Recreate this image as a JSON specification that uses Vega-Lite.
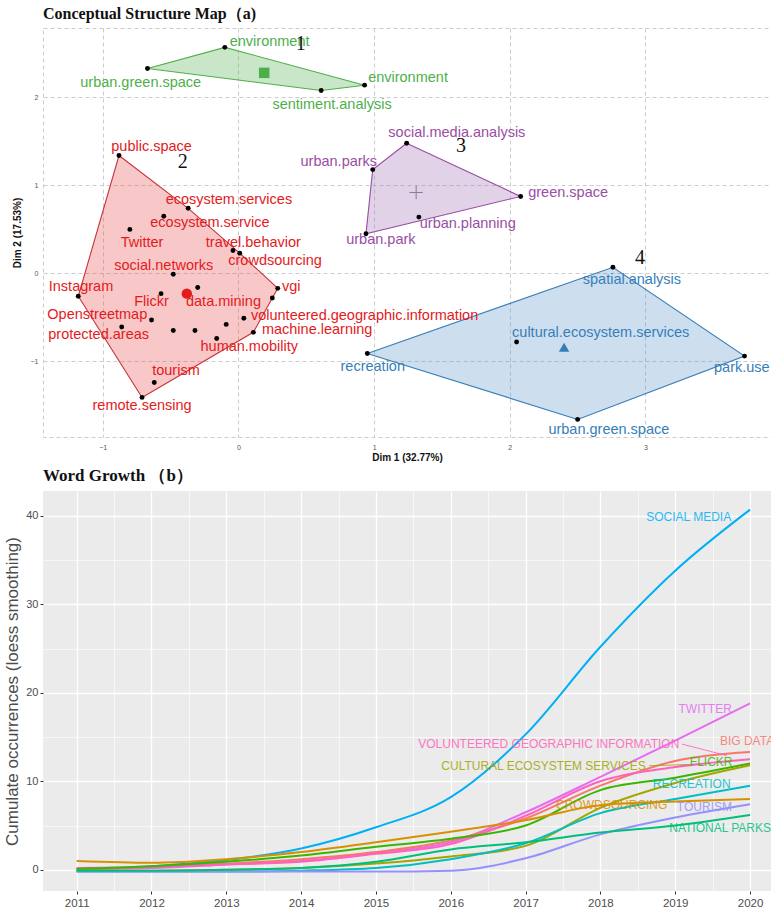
{
  "$schema": "https://vega.github.io/schema/vega-lite/v6.json",
  "background": "white",
  "padding": {"left": 3, "top": 5, "right": 0, "bottom": 0},
  "spacing": 4,
  "resolve": {"scale": {"color": "independent", "fill": "independent", "stroke": "independent", "shape": "independent"}},
  "config": {
    "font": "Liberation Sans",
    "title": {"font": "Liberation Serif", "fontWeight": "bold", "color": "#111", "anchor": "start", "frame": "group"}
  },
  "datasets": {
    "terms": [
      {"cluster": "1", "term": "environment", "x": -0.10, "y": 2.57, "hull": 2},
      {"cluster": "1", "term": "urban.green.space", "x": -0.67, "y": 2.33, "hull": 1},
      {"cluster": "1", "term": "environment", "x": 0.93, "y": 2.14, "hull": 3},
      {"cluster": "1", "term": "sentiment.analysis", "x": 0.61, "y": 2.08, "hull": 4},
      {"cluster": "2", "term": "public.space", "x": -0.88, "y": 1.34, "hull": 1},
      {"cluster": "2", "term": "ecosystem.services", "x": -0.37, "y": 0.74, "hull": 2},
      {"cluster": "2", "term": "ecosystem.service", "x": -0.55, "y": 0.65, "hull": null},
      {"cluster": "2", "term": "Twitter", "x": -0.80, "y": 0.50, "hull": null},
      {"cluster": "2", "term": "travel.behavior", "x": -0.04, "y": 0.26, "hull": null},
      {"cluster": "2", "term": "crowdsourcing", "x": 0.01, "y": 0.23, "hull": 3},
      {"cluster": "2", "term": "social.networks", "x": -0.48, "y": -0.01, "hull": null},
      {"cluster": "2", "term": "Instagram", "x": -1.18, "y": -0.26, "hull": 8},
      {"cluster": "2", "term": "Flickr", "x": -0.57, "y": -0.23, "hull": null},
      {"cluster": "2", "term": "data.mining", "x": -0.30, "y": -0.16, "hull": null},
      {"cluster": "2", "term": "vgi", "x": 0.29, "y": -0.17, "hull": 4},
      {"cluster": "2", "term": "", "x": 0.25, "y": -0.28, "hull": 5},
      {"cluster": "2", "term": "volunteered.geographic.information", "x": 0.04, "y": -0.51, "hull": null},
      {"cluster": "2", "term": "machine.learning", "x": 0.11, "y": -0.67, "hull": 6},
      {"cluster": "2", "term": "Openstreetmap", "x": -0.64, "y": -0.53, "hull": null},
      {"cluster": "2", "term": "protected.areas", "x": -0.86, "y": -0.61, "hull": null},
      {"cluster": "2", "term": "", "x": -0.48, "y": -0.65, "hull": null},
      {"cluster": "2", "term": "", "x": -0.32, "y": -0.65, "hull": null},
      {"cluster": "2", "term": "", "x": -0.09, "y": -0.58, "hull": null},
      {"cluster": "2", "term": "human.mobility", "x": -0.16, "y": -0.74, "hull": null},
      {"cluster": "2", "term": "tourism", "x": -0.62, "y": -1.24, "hull": null},
      {"cluster": "2", "term": "remote.sensing", "x": -0.71, "y": -1.41, "hull": 7},
      {"cluster": "3", "term": "social.media.analysis", "x": 1.24, "y": 1.48, "hull": 1},
      {"cluster": "3", "term": "urban.parks", "x": 0.99, "y": 1.18, "hull": 4},
      {"cluster": "3", "term": "green.space", "x": 2.08, "y": 0.875, "hull": 2},
      {"cluster": "3", "term": "urban.planning", "x": 1.33, "y": 0.64, "hull": null},
      {"cluster": "3", "term": "urban.park", "x": 0.94, "y": 0.45, "hull": 3},
      {"cluster": "4", "term": "spatial.analysis", "x": 2.76, "y": 0.07, "hull": 2},
      {"cluster": "4", "term": "recreation", "x": 0.95, "y": -0.91, "hull": 1},
      {"cluster": "4", "term": "cultural.ecosystem.services", "x": 2.05, "y": -0.78, "hull": null},
      {"cluster": "4", "term": "park.use", "x": 3.73, "y": -0.94, "hull": 3},
      {"cluster": "4", "term": "urban.green.space", "x": 2.50, "y": -1.66, "hull": 4}
    ],
    "termLabels": [
      {"cluster": "1", "term": "environment", "x": 0.23, "y": 2.63},
      {"cluster": "1", "term": "urban.green.space", "x": -0.72, "y": 2.17},
      {"cluster": "1", "term": "environment", "x": 1.25, "y": 2.22},
      {"cluster": "1", "term": "sentiment.analysis", "x": 0.69, "y": 1.91},
      {"cluster": "2", "term": "public.space", "x": -0.64, "y": 1.44},
      {"cluster": "2", "term": "ecosystem.services", "x": -0.07, "y": 0.84},
      {"cluster": "2", "term": "ecosystem.service", "x": -0.21, "y": 0.57},
      {"cluster": "2", "term": "Twitter", "x": -0.71, "y": 0.35},
      {"cluster": "2", "term": "travel.behavior", "x": 0.11, "y": 0.35},
      {"cluster": "2", "term": "crowdsourcing", "x": 0.27, "y": 0.14},
      {"cluster": "2", "term": "social.networks", "x": -0.55, "y": 0.08},
      {"cluster": "2", "term": "Instagram", "x": -1.16, "y": -0.15},
      {"cluster": "2", "term": "Flickr", "x": -0.64, "y": -0.32},
      {"cluster": "2", "term": "data.mining", "x": -0.11, "y": -0.32},
      {"cluster": "2", "term": "vgi", "x": 0.39, "y": -0.15},
      {"cluster": "2", "term": "Openstreetmap", "x": -1.04, "y": -0.47},
      {"cluster": "2", "term": "volunteered.geographic.information", "x": 0.93, "y": -0.49},
      {"cluster": "2", "term": "protected.areas", "x": -1.03, "y": -0.70},
      {"cluster": "2", "term": "machine.learning", "x": 0.58, "y": -0.64},
      {"cluster": "2", "term": "human.mobility", "x": 0.08, "y": -0.84},
      {"cluster": "2", "term": "tourism", "x": -0.46, "y": -1.11},
      {"cluster": "2", "term": "remote.sensing", "x": -0.71, "y": -1.51},
      {"cluster": "3", "term": "social.media.analysis", "x": 1.61, "y": 1.60},
      {"cluster": "3", "term": "urban.parks", "x": 0.74, "y": 1.27},
      {"cluster": "3", "term": "green.space", "x": 2.43, "y": 0.91},
      {"cluster": "3", "term": "urban.planning", "x": 1.69, "y": 0.56},
      {"cluster": "3", "term": "urban.park", "x": 1.05, "y": 0.375},
      {"cluster": "4", "term": "spatial.analysis", "x": 2.90, "y": -0.08},
      {"cluster": "4", "term": "cultural.ecosystem.services", "x": 2.67, "y": -0.68},
      {"cluster": "4", "term": "recreation", "x": 0.99, "y": -1.06},
      {"cluster": "4", "term": "park.use", "x": 3.71, "y": -1.07},
      {"cluster": "4", "term": "urban.green.space", "x": 2.73, "y": -1.78}
    ],
    "centroids": [
      {"cluster": "1", "x": 0.19, "y": 2.28},
      {"cluster": "2", "x": -0.38, "y": -0.23},
      {"cluster": "3", "x": 1.31, "y": 0.92},
      {"cluster": "4", "x": 2.40, "y": -0.84}
    ],
    "clusterTags": [
      {"cluster": "1", "x": 0.46, "y": 2.61},
      {"cluster": "2", "x": -0.41, "y": 1.27},
      {"cluster": "3", "x": 1.64, "y": 1.45},
      {"cluster": "4", "x": 2.96, "y": 0.18}
    ],
    "growth": [
      {"word": "SOCIAL MEDIA", "year": 2011, "n": 0.0}, {"word": "SOCIAL MEDIA", "year": 2012, "n": 0.4}, {"word": "SOCIAL MEDIA", "year": 2013, "n": 1.1}, {"word": "SOCIAL MEDIA", "year": 2014, "n": 2.4}, {"word": "SOCIAL MEDIA", "year": 2015, "n": 4.8}, {"word": "SOCIAL MEDIA", "year": 2016, "n": 8.2}, {"word": "SOCIAL MEDIA", "year": 2017, "n": 15.3}, {"word": "SOCIAL MEDIA", "year": 2018, "n": 25.2}, {"word": "SOCIAL MEDIA", "year": 2019, "n": 33.8}, {"word": "SOCIAL MEDIA", "year": 2020, "n": 40.7},
      {"word": "TWITTER", "year": 2011, "n": 0.1}, {"word": "TWITTER", "year": 2012, "n": 0.2}, {"word": "TWITTER", "year": 2013, "n": 0.6}, {"word": "TWITTER", "year": 2014, "n": 1.0}, {"word": "TWITTER", "year": 2015, "n": 1.9}, {"word": "TWITTER", "year": 2016, "n": 3.1}, {"word": "TWITTER", "year": 2017, "n": 6.5}, {"word": "TWITTER", "year": 2018, "n": 10.5}, {"word": "TWITTER", "year": 2019, "n": 14.6}, {"word": "TWITTER", "year": 2020, "n": 18.8},
      {"word": "BIG DATA", "year": 2011, "n": 0.0}, {"word": "BIG DATA", "year": 2012, "n": 0.3}, {"word": "BIG DATA", "year": 2013, "n": 0.7}, {"word": "BIG DATA", "year": 2014, "n": 1.2}, {"word": "BIG DATA", "year": 2015, "n": 2.0}, {"word": "BIG DATA", "year": 2016, "n": 3.3}, {"word": "BIG DATA", "year": 2017, "n": 5.8}, {"word": "BIG DATA", "year": 2018, "n": 9.5}, {"word": "BIG DATA", "year": 2019, "n": 12.3}, {"word": "BIG DATA", "year": 2020, "n": 13.3},
      {"word": "VOLUNTEERED GEOGRAPHIC INFORMATION", "year": 2011, "n": 0.2}, {"word": "VOLUNTEERED GEOGRAPHIC INFORMATION", "year": 2012, "n": 0.3}, {"word": "VOLUNTEERED GEOGRAPHIC INFORMATION", "year": 2013, "n": 0.6}, {"word": "VOLUNTEERED GEOGRAPHIC INFORMATION", "year": 2014, "n": 0.9}, {"word": "VOLUNTEERED GEOGRAPHIC INFORMATION", "year": 2015, "n": 1.8}, {"word": "VOLUNTEERED GEOGRAPHIC INFORMATION", "year": 2016, "n": 2.9}, {"word": "VOLUNTEERED GEOGRAPHIC INFORMATION", "year": 2017, "n": 6.1}, {"word": "VOLUNTEERED GEOGRAPHIC INFORMATION", "year": 2018, "n": 10.0}, {"word": "VOLUNTEERED GEOGRAPHIC INFORMATION", "year": 2019, "n": 11.6}, {"word": "VOLUNTEERED GEOGRAPHIC INFORMATION", "year": 2020, "n": 12.5},
      {"word": "FLICKR", "year": 2011, "n": 0.1}, {"word": "FLICKR", "year": 2012, "n": 0.4}, {"word": "FLICKR", "year": 2013, "n": 0.9}, {"word": "FLICKR", "year": 2014, "n": 1.6}, {"word": "FLICKR", "year": 2015, "n": 2.6}, {"word": "FLICKR", "year": 2016, "n": 3.5}, {"word": "FLICKR", "year": 2017, "n": 5.0}, {"word": "FLICKR", "year": 2018, "n": 9.0}, {"word": "FLICKR", "year": 2019, "n": 10.4}, {"word": "FLICKR", "year": 2020, "n": 12.0},
      {"word": "CULTURAL ECOSYSTEM SERVICES", "year": 2011, "n": -0.1}, {"word": "CULTURAL ECOSYSTEM SERVICES", "year": 2012, "n": -0.1}, {"word": "CULTURAL ECOSYSTEM SERVICES", "year": 2013, "n": 0.0}, {"word": "CULTURAL ECOSYSTEM SERVICES", "year": 2014, "n": 0.2}, {"word": "CULTURAL ECOSYSTEM SERVICES", "year": 2015, "n": 0.7}, {"word": "CULTURAL ECOSYSTEM SERVICES", "year": 2016, "n": 1.5}, {"word": "CULTURAL ECOSYSTEM SERVICES", "year": 2017, "n": 2.7}, {"word": "CULTURAL ECOSYSTEM SERVICES", "year": 2018, "n": 7.0}, {"word": "CULTURAL ECOSYSTEM SERVICES", "year": 2019, "n": 9.8}, {"word": "CULTURAL ECOSYSTEM SERVICES", "year": 2020, "n": 11.8},
      {"word": "RECREATION", "year": 2011, "n": -0.2}, {"word": "RECREATION", "year": 2012, "n": -0.2}, {"word": "RECREATION", "year": 2013, "n": -0.2}, {"word": "RECREATION", "year": 2014, "n": -0.1}, {"word": "RECREATION", "year": 2015, "n": 0.2}, {"word": "RECREATION", "year": 2016, "n": 1.2}, {"word": "RECREATION", "year": 2017, "n": 3.0}, {"word": "RECREATION", "year": 2018, "n": 6.4}, {"word": "RECREATION", "year": 2019, "n": 8.0}, {"word": "RECREATION", "year": 2020, "n": 9.5},
      {"word": "CROWDSOURCING", "year": 2011, "n": 1.0}, {"word": "CROWDSOURCING", "year": 2012, "n": 0.8}, {"word": "CROWDSOURCING", "year": 2013, "n": 1.2}, {"word": "CROWDSOURCING", "year": 2014, "n": 2.0}, {"word": "CROWDSOURCING", "year": 2015, "n": 3.1}, {"word": "CROWDSOURCING", "year": 2016, "n": 4.3}, {"word": "CROWDSOURCING", "year": 2017, "n": 5.6}, {"word": "CROWDSOURCING", "year": 2018, "n": 7.3}, {"word": "CROWDSOURCING", "year": 2019, "n": 7.7}, {"word": "CROWDSOURCING", "year": 2020, "n": 8.0},
      {"word": "TOURISM", "year": 2011, "n": -0.2}, {"word": "TOURISM", "year": 2012, "n": -0.2}, {"word": "TOURISM", "year": 2013, "n": -0.2}, {"word": "TOURISM", "year": 2014, "n": -0.2}, {"word": "TOURISM", "year": 2015, "n": -0.2}, {"word": "TOURISM", "year": 2016, "n": -0.1}, {"word": "TOURISM", "year": 2017, "n": 1.3}, {"word": "TOURISM", "year": 2018, "n": 4.0}, {"word": "TOURISM", "year": 2019, "n": 5.9}, {"word": "TOURISM", "year": 2020, "n": 7.4},
      {"word": "NATIONAL PARKS", "year": 2011, "n": -0.1}, {"word": "NATIONAL PARKS", "year": 2012, "n": -0.1}, {"word": "NATIONAL PARKS", "year": 2013, "n": 0.0}, {"word": "NATIONAL PARKS", "year": 2014, "n": 0.2}, {"word": "NATIONAL PARKS", "year": 2015, "n": 0.9}, {"word": "NATIONAL PARKS", "year": 2016, "n": 2.3}, {"word": "NATIONAL PARKS", "year": 2017, "n": 3.1}, {"word": "NATIONAL PARKS", "year": 2018, "n": 4.2}, {"word": "NATIONAL PARKS", "year": 2019, "n": 5.0}, {"word": "NATIONAL PARKS", "year": 2020, "n": 6.2}
    ],
    "wordLabels": [
      {"word": "SOCIAL MEDIA", "year": 2019.18, "n": 39.9},
      {"word": "TWITTER", "year": 2019.40, "n": 18.2},
      {"word": "VOLUNTEERED GEOGRAPHIC INFORMATION", "year": 2017.31, "n": 14.2, "toYear": 2019.69, "toN": 12.9, "fromYear": 2019.09},
      {"word": "BIG DATA", "year": 2019.96, "n": 14.6},
      {"word": "FLICKR", "year": 2019.48, "n": 12.2},
      {"word": "CULTURAL ECOSYSTEM SERVICES", "year": 2017.24, "n": 11.75, "toYear": 2019.2, "toN": 11.9, "fromYear": 2018.65},
      {"word": "RECREATION", "year": 2019.22, "n": 9.7},
      {"word": "CROWDSOURCING", "year": 2018.15, "n": 7.3},
      {"word": "TOURISM", "year": 2019.39, "n": 7.1},
      {"word": "NATIONAL PARKS", "year": 2019.6, "n": 4.7}
    ]
  },
  "vconcat": [
    {
      "width": 728,
      "height": 409,
      "title": {"text": "Conceptual Structure Map（a)", "fontSize": 16, "offset": 6},
      "view": {"stroke": "#cccccc", "strokeDash": [4, 3], "strokeWidth": 1},
      "encoding": {
        "x": {
          "field": "x", "type": "quantitative",
          "scale": {"domain": [-1.44, 3.925], "nice": false, "zero": false},
          "axis": {
            "values": [-1, 0, 1, 2, 3], "title": "Dim 1 (32.77%)",
            "grid": true, "gridColor": "#cccccc", "gridDash": [4, 3],
            "domain": false, "ticks": false, "labelFontSize": 7, "labelColor": "#555",
            "labelPadding": 6, "titleFontSize": 10, "titleFontWeight": "bold", "titleColor": "#111", "titlePadding": 2
          }
        },
        "y": {
          "field": "y", "type": "quantitative",
          "scale": {"domain": [-1.86, 2.79], "nice": false, "zero": false},
          "axis": {
            "values": [-1, 0, 1, 2], "title": "Dim 2 (17.53%)",
            "grid": true, "gridColor": "#cccccc", "gridDash": [4, 3],
            "domain": false, "ticks": false, "labelFontSize": 7, "labelColor": "#555",
            "labelPadding": 5, "titleFontSize": 10, "titleFontWeight": "bold", "titleColor": "#111", "titlePadding": 8
          }
        }
      },
      "layer": [
        {
          "data": {"values": [{"v": 0}]},
          "mark": {"type": "rule", "color": "#666", "strokeDash": [7, 4], "strokeWidth": 1.2},
          "encoding": {"x": {"datum": 0, "type": "quantitative"}, "y": null}
        },
        {
          "data": {"values": [{"v": 0}]},
          "mark": {"type": "rule", "color": "#666", "strokeDash": [7, 4], "strokeWidth": 1.2},
          "encoding": {"y": {"datum": 0, "type": "quantitative"}, "x": null}
        },
        {
          "data": {"name": "terms"},
          "transform": [{"filter": "isValid(datum.hull)"}],
          "mark": {"type": "line", "interpolate": "linear-closed", "strokeWidth": 1.1, "fillOpacity": 0.3},
          "encoding": {
            "order": {"field": "hull", "type": "quantitative"},
            "detail": {"field": "cluster"},
            "stroke": {"field": "cluster", "type": "nominal", "legend": null,
              "scale": {"domain": ["1", "2", "3", "4"], "range": ["#4daf4a", "#c8333a", "#984ea3", "#377eb8"]}},
            "fill": {"field": "cluster", "type": "nominal", "legend": null,
              "scale": {"domain": ["1", "2", "3", "4"], "range": ["#4daf4a", "#e8484b", "#a06aae", "#5b95c9"]}}
          }
        },
        {
          "data": {"name": "terms"},
          "mark": {"type": "circle", "size": 24, "color": "black", "opacity": 1}
        },
        {
          "data": {"name": "centroids"},
          "transform": [{"filter": "datum.cluster != '3'"}],
          "mark": {"type": "point", "filled": true, "opacity": 1, "size": 110},
          "encoding": {
            "shape": {"field": "cluster", "type": "nominal", "legend": null,
              "scale": {"domain": ["1", "2", "4"], "range": ["square", "circle", "triangle-up"]}},
            "color": {"field": "cluster", "type": "nominal", "legend": null,
              "scale": {"domain": ["1", "2", "3", "4"], "range": ["#4daf4a", "#e41a1c", "#984ea3", "#377eb8"]}}
          }
        },
        {
          "data": {"name": "centroids"},
          "transform": [{"filter": "datum.cluster == '3'"}],
          "mark": {"type": "point", "shape": "M-1,0L1,0M0,-1L0,1", "filled": false, "size": 180, "strokeWidth": 1, "color": "#8a6a94", "opacity": 0.9}
        },
        {
          "data": {"name": "termLabels"},
          "mark": {"type": "text", "fontSize": 14.5, "font": "Liberation Sans", "baseline": "middle", "align": "center"},
          "encoding": {
            "text": {"field": "term"},
            "color": {"field": "cluster", "type": "nominal", "legend": null,
              "scale": {"domain": ["1", "2", "3", "4"], "range": ["#4daf4a", "#d0222c", "#984ea3", "#377eb8"]}}
          }
        },
        {
          "data": {"name": "clusterTags"},
          "mark": {"type": "text", "font": "Liberation Serif", "fontSize": 20, "color": "#111", "baseline": "middle", "align": "center"},
          "encoding": {"text": {"field": "cluster"}}
        }
      ]
    },
    {
      "width": 728,
      "height": 400,
      "title": {"text": "Word Growth （b）", "fontSize": 17, "offset": 6},
      "view": {"fill": "#ebebeb", "stroke": null},
      "encoding": {
        "x": {
          "field": "year", "type": "quantitative",
          "scale": {"domain": [2010.55, 2020.28], "nice": false, "zero": false},
          "axis": {
            "values": [2011, 2011.5, 2012, 2012.5, 2013, 2013.5, 2014, 2014.5, 2015, 2015.5, 2016, 2016.5, 2017, 2017.5, 2018, 2018.5, 2019, 2019.5, 2020],
            "labelExpr": "datum.value % 1 === 0 ? datum.value : ''",
            "title": null, "domain": false,
            "grid": true, "gridColor": "white",
            "gridWidth": {"condition": {"test": "datum.value % 1 !== 0", "value": 0.6}, "value": 1.3},
            "tickSize": 3, "tickColor": "#333",
            "tickOpacity": {"condition": {"test": "datum.value % 1 !== 0", "value": 0}, "value": 1},
            "labelFontSize": 11.5, "labelColor": "#4d4d4d", "labelPadding": 3, "labelFont": "Liberation Sans"
          }
        },
        "y": {
          "field": "n", "type": "quantitative",
          "scale": {"domain": [-2.4, 42.8], "nice": false, "zero": false},
          "axis": {
            "values": [0, 5, 10, 15, 20, 25, 30, 35, 40],
            "labelExpr": "datum.value % 10 === 0 ? datum.value : ''",
            "title": "Cumulate occurrences (loess smoothing)", "titleFontSize": 17, "titleFontWeight": "normal",
            "titleColor": "#4d4d4d", "titlePadding": 4, "titleFont": "Liberation Sans",
            "domain": false, "grid": true, "gridColor": "white",
            "gridWidth": {"condition": {"test": "datum.value % 10 !== 0", "value": 0.6}, "value": 1.3},
            "tickSize": 3, "tickColor": "#333",
            "tickOpacity": {"condition": {"test": "datum.value % 10 !== 0", "value": 0}, "value": 1},
            "labelFontSize": 11, "labelColor": "#4d4d4d", "labelPadding": 2, "labelFont": "Liberation Sans"
          }
        },
        "color": {
          "field": "word", "type": "nominal", "legend": null,
          "scale": {
            "domain": ["BIG DATA", "CROWDSOURCING", "CULTURAL ECOSYSTEM SERVICES", "FLICKR", "NATIONAL PARKS", "RECREATION", "SOCIAL MEDIA", "TOURISM", "TWITTER", "VOLUNTEERED GEOGRAPHIC INFORMATION"],
            "range": ["#F8766D", "#D89000", "#A3A500", "#39B600", "#00BF7D", "#00BFC4", "#00B0F6", "#9590FF", "#E76BF3", "#FF62BC"]
          }
        }
      },
      "layer": [
        {
          "data": {"values": [{"v": 0}]},
          "mark": {"type": "rule", "color": "#555", "strokeWidth": 1},
          "encoding": {"y": {"datum": 0, "type": "quantitative"}, "x": null, "color": null}
        },
        {
          "data": {"name": "growth"},
          "mark": {"type": "line", "interpolate": "monotone", "strokeWidth": 2}
        },
        {
          "data": {"name": "wordLabels"},
          "transform": [{"filter": "isValid(datum.toYear)"}],
          "mark": {"type": "rule", "strokeWidth": 1, "opacity": 0.85},
          "encoding": {
            "x": {"field": "fromYear", "type": "quantitative"},
            "x2": {"field": "toYear"},
            "y": {"field": "n", "type": "quantitative"},
            "y2": {"field": "toN"}
          }
        },
        {
          "data": {"name": "wordLabels"},
          "mark": {"type": "text", "font": "Liberation Sans", "fontSize": 12, "baseline": "middle", "align": "center", "opacity": 0.85},
          "encoding": {"text": {"field": "word"}}
        }
      ]
    }
  ]
}
